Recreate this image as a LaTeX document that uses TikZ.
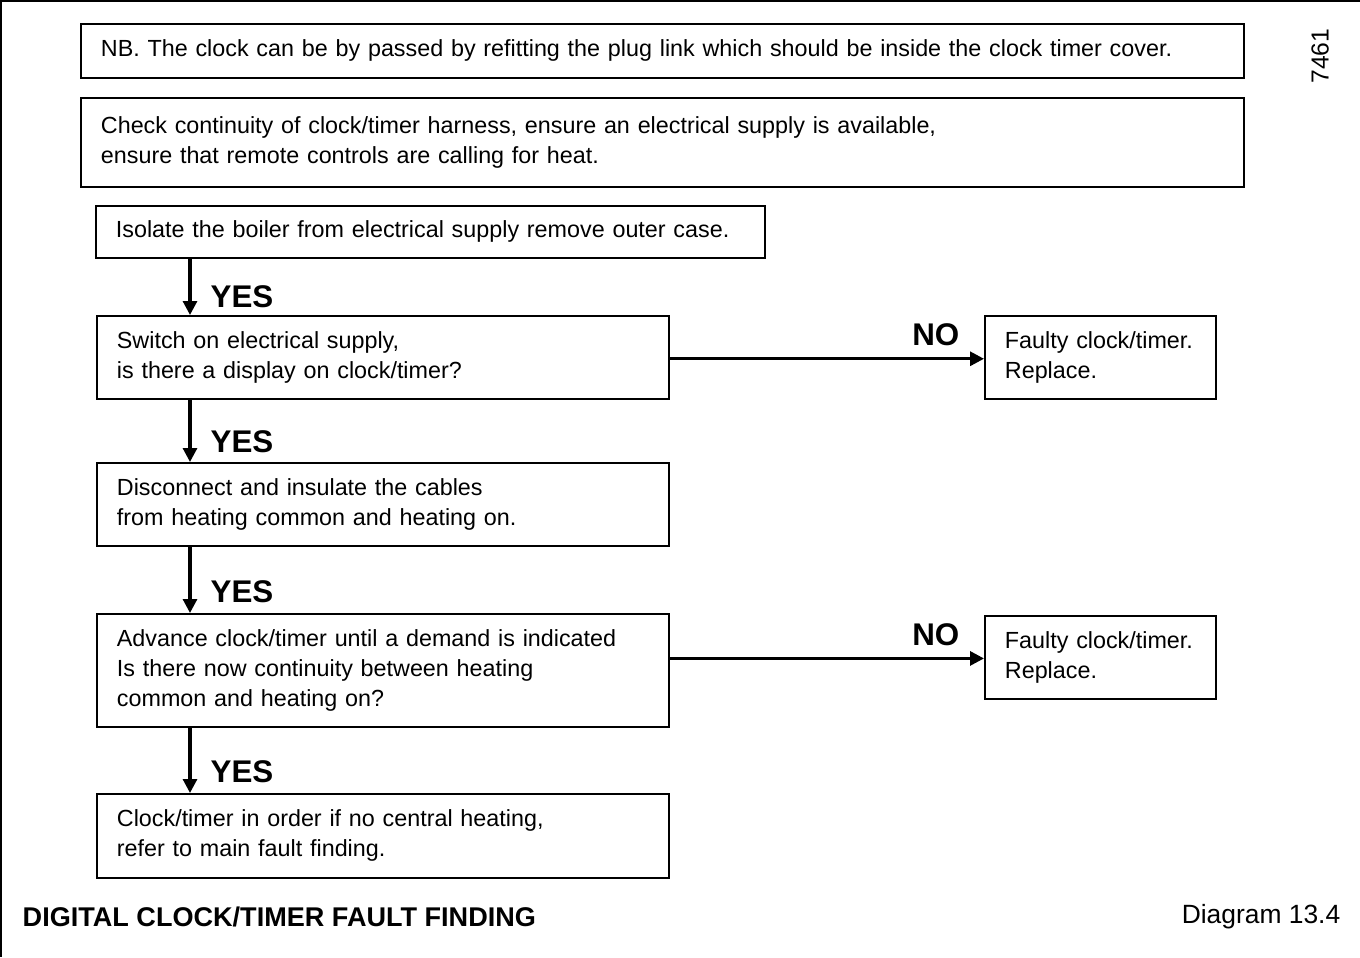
\documentclass[tikz,border=0pt]{standalone}
\usepackage{fontspec}
\setmainfont{Liberation Sans}
\usetikzlibrary{arrows.meta,positioning}

\newcommand{\boxfont}{\fontsize{17.5}{22.5}\selectfont}

\begin{document}
\begin{tikzpicture}[
    x=0.75pt, y=-0.75pt,
    chk/.style={rectangle, draw, line width=1.4pt, anchor=north west, align=left, inner xsep=15pt, inner ysep=0pt, font=\boxfont},
    flow/.style={-{Triangle[length=10.5pt,width=10.5pt]}, line width=2.3pt},
    yes/.style={font=\fontsize{23.5}{26}\selectfont\bfseries, anchor=west, pos=0.68, xshift=11pt},
    no/.style={font=\fontsize{23.5}{26}\selectfont\bfseries, anchor=south east, pos=1, xshift=-14pt, yshift=5pt}
]
    \useasboundingbox (0,0) rectangle (1360,957);
    % frame
    \draw[line width=1.5pt] (0,1) -- (1360,1);
    \draw[line width=1.5pt] (1,0) -- (1,957);

    % notes
    \node[chk, text width=842pt, minimum height=40.5pt] (nb) at (80,23) {NB. The clock can be by passed by refitting the plug link which should be inside the clock timer cover.};
    \node[chk, text width=842pt, minimum height=66.75pt] (chk) at (80,97) {Check continuity of clock/timer harness, ensure an electrical supply is available,\\ensure that remote controls are calling for heat.};

    % main column
    \node[chk, text width=472pt, minimum height=39pt] (iso) at (95,205) {Isolate the boiler from electrical supply remove outer case.};
    \node[chk, text width=399pt, minimum height=62.25pt] (sw) at (96,315) {Switch on electrical supply,\\is there a display on clock/timer?};
    \node[chk, text width=399pt, minimum height=62.25pt] (dc) at (96,462) {Disconnect and insulate the cables\\from heating common and heating on.};
    \node[chk, text width=399pt, minimum height=84.75pt] (adv) at (96,613) {Advance clock/timer until a demand is indicated\\Is there now continuity between heating\\common and heating on?};
    \node[chk, text width=399pt, minimum height=63pt] (ok) at (96,793) {Clock/timer in order if no central heating,\\refer to main fault finding.};

    % faulty boxes
    \node[chk, text width=143pt, minimum height=62.25pt] (f1) at (984,315) {Faulty clock/timer.\\Replace.};
    \node[chk, text width=143pt, minimum height=62.25pt] (f2) at (984,615) {Faulty clock/timer.\\Replace.};

    % yes arrows
    \draw[flow] ([xshift=70.5pt]sw.north west |- iso.south) -- ([xshift=70.5pt]sw.north west) node[yes] {YES};
    \draw[flow] ([xshift=70.5pt]sw.south west) -- ([xshift=70.5pt]dc.north west) node[yes] {YES};
    \draw[flow] ([xshift=70.5pt]dc.south west) -- ([xshift=70.5pt]adv.north west) node[yes] {YES};
    \draw[flow] ([xshift=70.5pt]adv.south west) -- ([xshift=70.5pt]ok.north west) node[yes] {YES};

    % no arrows
    \draw[flow] ([yshift=-1pt]sw.east) -- ([yshift=-1pt]sw.east -| f1.west) node[no] {NO};
    \draw[flow] ([yshift=9pt]adv.east) -- ([yshift=9pt]adv.east -| f2.west) node[no] {NO};

    % captions
    \node[font=\fontsize{20.3}{24}\selectfont\bfseries, anchor=west] (ttl) at (18,917) {DIGITAL CLOCK/TIMER FAULT FINDING};
    \node[font=\fontsize{19.8}{24}\selectfont, anchor=east] (dia) at (1345,917) {Diagram 13.4};
    \node[font=\fontsize{18.5}{22}\selectfont, rotate=90] (num) at (1320,56) {7461};
\end{tikzpicture}
\end{document}
